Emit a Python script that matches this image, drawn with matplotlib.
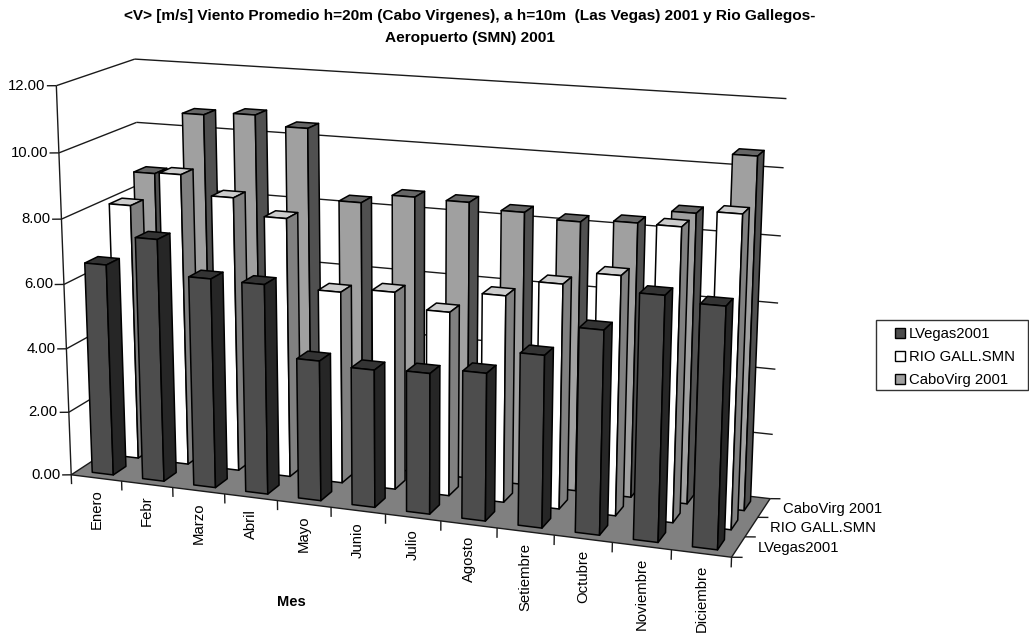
import numpy as np
import matplotlib
matplotlib.use("Agg")
import matplotlib.pyplot as plt
from matplotlib.patches import Patch, Rectangle
from mpl_toolkits.mplot3d import Axes3D
from mpl_toolkits.mplot3d.art3d import Poly3DCollection, Line3DCollection

plt.rcParams['font.family'] = ['Liberation Sans', 'DejaVu Sans']

W, H = 1029, 634

meses = ["Enero", "Febr", "Marzo", "Abril", "Mayo", "Junio", "Julio", "Agosto",
         "Setiembre", "Octubre", "Noviembre", "Diciembre"]
series = ["LVegas2001", "RIO GALL.SMN", "CaboVirg 2001"]
lvegas = [6.6, 7.52, 6.47, 6.45, 4.3, 4.2, 4.27, 4.45, 5.15, 6.05, 7.2, 7.05]
rio = [8.05, 9.13, 8.55, 8.05, 5.95, 6.1, 5.65, 6.3, 6.8, 7.2, 8.75, 9.25]
cabo = [8.7, 10.65, 10.75, 10.45, 8.3, 8.6, 8.57, 8.4, 8.25, 8.35, 8.77, 10.55]
valores_y = [0, 2, 4, 6, 8, 10, 12]

# (front, side, top) fill of each series
colores = [("#4d4d4d", "#262626", "#333333"),
           ("#ffffff", "#808080", "#cccccc"),
           ("#a0a0a0", "#505050", "#666666")]
NADA = (0, 0, 0, 0)

# Camera: world points (month, depth, value) against their place on the canvas
anclas_mundo = np.array([
    (0, 0, 0), (12, 0, 0), (12, 3, 0), (0, 3, 0),
    (0, 0, 12), (0, 3, 12), (12, 3, 12),
    (0, 0, 10), (0, 3, 10), (12, 3, 10)], float)
anclas_px = np.array([
    (71.3, 474), (731.7, 557.7), (770, 498.3), (145.5, 427),
    (55.7, 85.7), (135, 59), (786.7, 99.3),
    (59.3, 153.3), (136.7, 122), (783.3, 167)], float)


def camara(mundo, px):
    filas = []
    for (x, y, z), (u, v) in zip(mundo, px):
        filas.append([x, y, z, 1, 0, 0, 0, 0, -u*x, -u*y, -u*z, -u])
        filas.append([0, 0, 0, 0, x, y, z, 1, -v*x, -v*y, -v*z, -v])
    return np.linalg.svd(np.array(filas))[2][-1].reshape(3, 4)


anclas_px[:, 1] = H - anclas_px[:, 1]
P = camara(anclas_mundo, anclas_px)
centro = np.linalg.svd(P)[2][-1]

fig = plt.figure(figsize=(W/100, H/100), dpi=100, facecolor="white")
# Axes3D forces a square box, so it is made as wide as the figure and overflows vertically
ax = fig.add_axes([0, (H-W)/2/H, 1, W/H], projection="3d")
ax.set_axis_off()
ax.computed_zorder = False
ax.patch.set_visible(False)


def proyeccion():
    A = np.linalg.inv(ax.transData.get_affine().get_matrix())
    Q = A @ P
    return np.vstack([Q[0], Q[1], centro, Q[2]])


ax.get_proj = proyeccion


def etiqueta(x, y, z, s, dx=0, dy=0, **kw):
    """Text at a world point, shifted dx, dy canvas pixels (dy downwards)."""
    u, v, w = P @ np.array([x, y, z, 1.0])
    return fig.text((u/w + dx)/W, (v/w - dy)/H, s, fontsize=TAM, **kw)


TAM = 10.7
n_m, n_s = len(meses), len(series)

# floor
piso = [[(0, 0, 0), (n_m, 0, 0), (n_m, n_s, 0), (0, n_s, 0)]]
ax.add_collection3d(Poly3DCollection(piso, facecolors="#808080", edgecolors="none", zorder=1))

# wall grid, axis edges and ticks
tramos = []
for v in valores_y:
    tramos.append([(0, 0, v), (0, n_s, v)])
    tramos.append([(0, n_s, v), (n_m, n_s, v)])
    tramos.append([(-.15, -.06, v), (0, 0, v)])
tramos.append([(0, 0, 0), (0, 0, max(valores_y))])
tramos.append([(0, 0, 0), (n_m, 0, 0)])
tramos.append([(n_m, 0, 0), (n_m, n_s, 0)])
for i in range(n_m + 1):
    tramos.append([(i, 0, 0), (i, 0, -.3)])
for d in range(n_s + 1):
    tramos.append([(n_m, d, 0), (n_m + .17, d + .056, 0)])
ax.add_collection3d(Line3DCollection(tramos, colors="#1a1a1a", linewidths=1.0, zorder=2))

# bars, back row first and left to right so nearer ones paint over farther ones
ANCHO, FONDO = 0.42, 0.50
for s, vals in reversed(list(enumerate([lvegas, rio, cabo]))):
    fr, la, te = colores[s]
    caras = [NADA, te, fr, NADA, NADA, la]
    bordes = [NADA, "black", "black", NADA, NADA, "black"]
    for m, v in enumerate(vals):
        ax.bar3d(m + (1-ANCHO)/2, s + (1-FONDO)/2, 0, ANCHO, FONDO, v,
                 color=caras, edgecolor=bordes, linewidth=1.1, shade=False,
                 zorder=10 + (n_s - s)*100 + m)

# value labels
for v in valores_y:
    etiqueta(0, 0, v, f"{v:.2f}", dx=-11, ha="right", va="center")

# month labels
for i, m in enumerate(meses):
    etiqueta(i + .5, 0, 0, m, dy=11.5, rotation=90, ha="center", va="top")

# depth labels
for d, s in enumerate(series):
    etiqueta(n_m, d + .5, 0, s, dx=19, dy=1, ha="left", va="center")

fig.text(470/W, 1 - 16/H, "<V> [m/s] Viento Promedio h=20m (Cabo Virgenes), a h=10m  (Las Vegas) 2001 y Rio Gallegos-",
         ha="center", va="center", fontsize=11.1, fontweight="bold")
fig.text(470/W, 1 - 38/H, "Aeropuerto (SMN) 2001",
         ha="center", va="center", fontsize=11.1, fontweight="bold")
fig.text(291/W, 1 - 602/H, "Mes", ha="center", va="center", fontsize=10.5, fontweight="bold")

# legend box, with the entries set inside it
fig.add_artist(Rectangle((876/W, 1 - 390.3/H), 152.3/W, 70.3/H, transform=fig.transFigure,
                         facecolor="white", edgecolor="#333333", linewidth=1.0))
ley = [Patch(facecolor=c[0], edgecolor="black", linewidth=1.0) for c in colores]
fig.legend(ley, series, loc="upper left", bbox_to_anchor=(895/W, 1 - 327.4/H),
           borderaxespad=0, borderpad=0, frameon=False, fontsize=10.7,
           handlelength=0.68, handleheight=0.68,
           handletextpad=0.25, labelspacing=0.6)

fig.savefig("out.png", dpi=100, facecolor="white")
